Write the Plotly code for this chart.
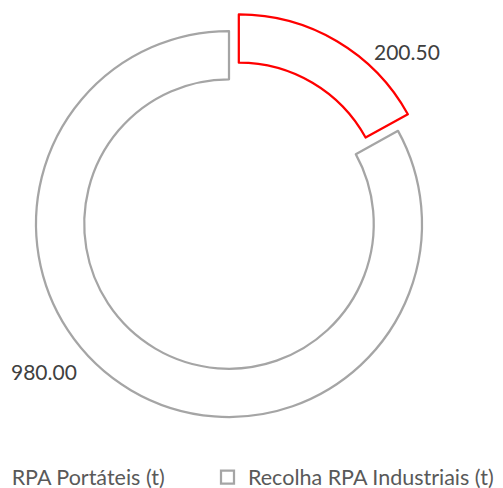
import plotly.graph_objects as go

# ---- data ----
categories = ["Recolha RPA Portáteis (t)", "Recolha RPA Industriais (t)"]
values = [200.50, 980.00]
slice_line_colors = ["#FF0000", "#A5A5A5"]

# the page body has an 8px margin, so the figure is sized to the visible area
OFF = 8
W, H = 503 - OFF, 488 - OFF
FONT = "Lato"

def px_x(x):  # x in screen pixels of the target window
    return (x - OFF) / W

def px_y(y):
    return 1 - (y - OFF) / H

fig = go.Figure()
fig.add_trace(go.Pie(
    labels=categories,
    values=values,
    hole=0.75,
    sort=False,
    direction="clockwise",
    rotation=0,
    pull=[0.1, 0],
    marker=dict(colors=["#FFFFFF", "#FFFFFF"],
                line=dict(color=slice_line_colors, width=2.25)),
    textinfo="none",
    showlegend=False,
    domain=dict(x=[px_x(16.7), px_x(441.3)], y=[px_y(436.3), px_y(11.7)]),
))

# data labels
label_pos = [(407, 51), (44, 371)]
annotations = []
for v, (lx, ly) in zip(values, label_pos):
    annotations.append(dict(
        text=f"{v:.2f}", x=px_x(lx), y=px_y(ly), xref="paper", yref="paper",
        xanchor="center", yanchor="middle", showarrow=False,
        font=dict(family=FONT, size=21, color="#404040")))

# legend (drawn manually: the original legend is wider than the chart and clipped on the left)
legend_text_right_first = 167
legend_text_left_second = 246
legend_y = 477
annotations.append(dict(
    text=categories[0], x=px_x(legend_text_right_first), y=px_y(legend_y),
    xref="paper", yref="paper", xanchor="right", yanchor="middle", showarrow=False,
    font=dict(family=FONT, size=21.5, color="#595959")))
annotations.append(dict(
    text=categories[1], x=px_x(legend_text_left_second), y=px_y(legend_y),
    xref="paper", yref="paper", xanchor="left", yanchor="middle", showarrow=False,
    font=dict(family=FONT, size=21.5, color="#595959")))

shapes = []
square_centers = [-92, 227.5]
for c, cx in zip(slice_line_colors, square_centers):
    shapes.append(dict(
        type="rect", xref="paper", yref="paper",
        x0=px_x(cx - 6.5), x1=px_x(cx + 6.5),
        y0=px_y(legend_y + 6.5), y1=px_y(legend_y - 6.5),
        line=dict(color=c, width=2.25), fillcolor="#FFFFFF"))

fig.update_layout(
    width=W, height=H,
    margin=dict(l=0, r=0, t=0, b=0, autoexpand=False),
    paper_bgcolor="#FFFFFF", plot_bgcolor="#FFFFFF",
    annotations=annotations, shapes=shapes,
    font=dict(family=FONT),
)

fig.write_html("out.html")
